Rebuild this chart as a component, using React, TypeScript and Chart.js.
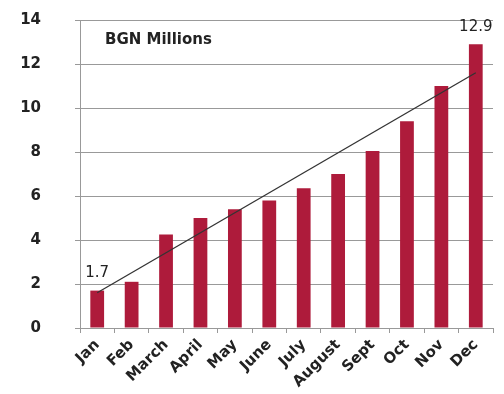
import React, { useEffect, useRef } from "react";
import { Chart, registerables } from "chart.js";

Chart.register(...registerables);

const categories = ["Jan", "Feb", "March", "April", "May", "June", "July", "August", "Sept", "Oct", "Nov", "Dec"];
const values = [1.7, 2.1, 4.25, 5.0, 5.4, 5.8, 6.35, 7.0, 8.05, 9.4, 11.0, 12.9];
const trendValues = [1.6, null, null, null, null, null, null, null, null, null, null, 11.6];
const labelledIndexes = [0, 11];
const yTicks = [0, 2, 4, 6, 8, 10, 12, 14];
const unitLabel = "BGN Millions";

const FONT = "'DejaVu Sans', Verdana, sans-serif";

const overlayPlugin = {
  id: "overlay",
  afterDatasetsDraw(chart: any) {
    const ctx = chart.ctx;
    const area = chart.chartArea;
    ctx.save();
    ctx.fillStyle = "#222";
    ctx.font = `bold 15px ${FONT}`;
    ctx.textAlign = "left";
    ctx.textBaseline = "middle";
    ctx.fillText(unitLabel, area.left + 25, area.top + 20);
    const meta = chart.getDatasetMeta(0);
    ctx.font = `15px ${FONT}`;
    ctx.textAlign = "center";
    ctx.textBaseline = "bottom";
    labelledIndexes.forEach((i) => {
      const el = meta.data[i];
      ctx.fillText(String(values[i]), el.x, el.y - 10);
    });
    ctx.restore();
  },
};

export default function App() {
  const ref = useRef<HTMLCanvasElement>(null);
  useEffect(() => {
    const chart = new Chart(ref.current!, {
      type: "bar",
      data: {
        labels: categories,
        datasets: [
          {
            type: "bar",
            data: values,
            backgroundColor: "#AE1B3B",
            barPercentage: 0.8,
            categoryPercentage: 0.5,
            order: 2,
          },
          {
            type: "line",
            data: trendValues as any,
            borderColor: "#333",
            borderWidth: 1.3,
            pointRadius: 0,
            spanGaps: true,
            fill: false,
            order: 1,
          } as any,
        ],
      },
      options: {
        responsive: false,
        animation: false,
        layout: { padding: { top: 20, right: 11, left: 0, bottom: 0 } },
        plugins: { legend: { display: false }, tooltip: { enabled: false } },
        scales: {
          x: {
            offset: true,
            grid: { drawOnChartArea: false, drawTicks: true, tickLength: 5, color: "#999", offset: true },
            border: { display: true, color: "#999", width: 1 },
            ticks: {
              minRotation: 45,
              maxRotation: 45,
              padding: 3,
              color: "#222",
              font: { family: FONT, size: 15, weight: "bold" },
            },
            afterFit(scale: any) {
              scale.height = 66;
              scale.paddingLeft = 0;
              scale.paddingRight = 0;
            },
          },
          y: {
            min: 0,
            max: 14,
            afterBuildTicks(scale: any) {
              scale.ticks = yTicks.map((v) => ({ value: v }));
            },
            grid: { color: "#999", tickLength: 5, lineWidth: 1 },
            border: { display: true, color: "#999", width: 1 },
            ticks: {
              padding: 34,
              color: "#222",
              font: { family: FONT, size: 15, weight: "bold" },
            },
            afterFit(scale: any) {
              scale.width = 80;
              scale.paddingTop = 0;
              scale.paddingBottom = 0;
            },
          },
        },
      },
      plugins: [overlayPlugin],
    });
    return () => chart.destroy();
  }, []);
  return (
    <div style={{ position: "fixed", left: 0, top: 0, width: 504, height: 394, background: "#fff" }}>
      <canvas ref={ref} width={504} height={394} style={{ width: 504, height: 394 }} />
    </div>
  );
}
